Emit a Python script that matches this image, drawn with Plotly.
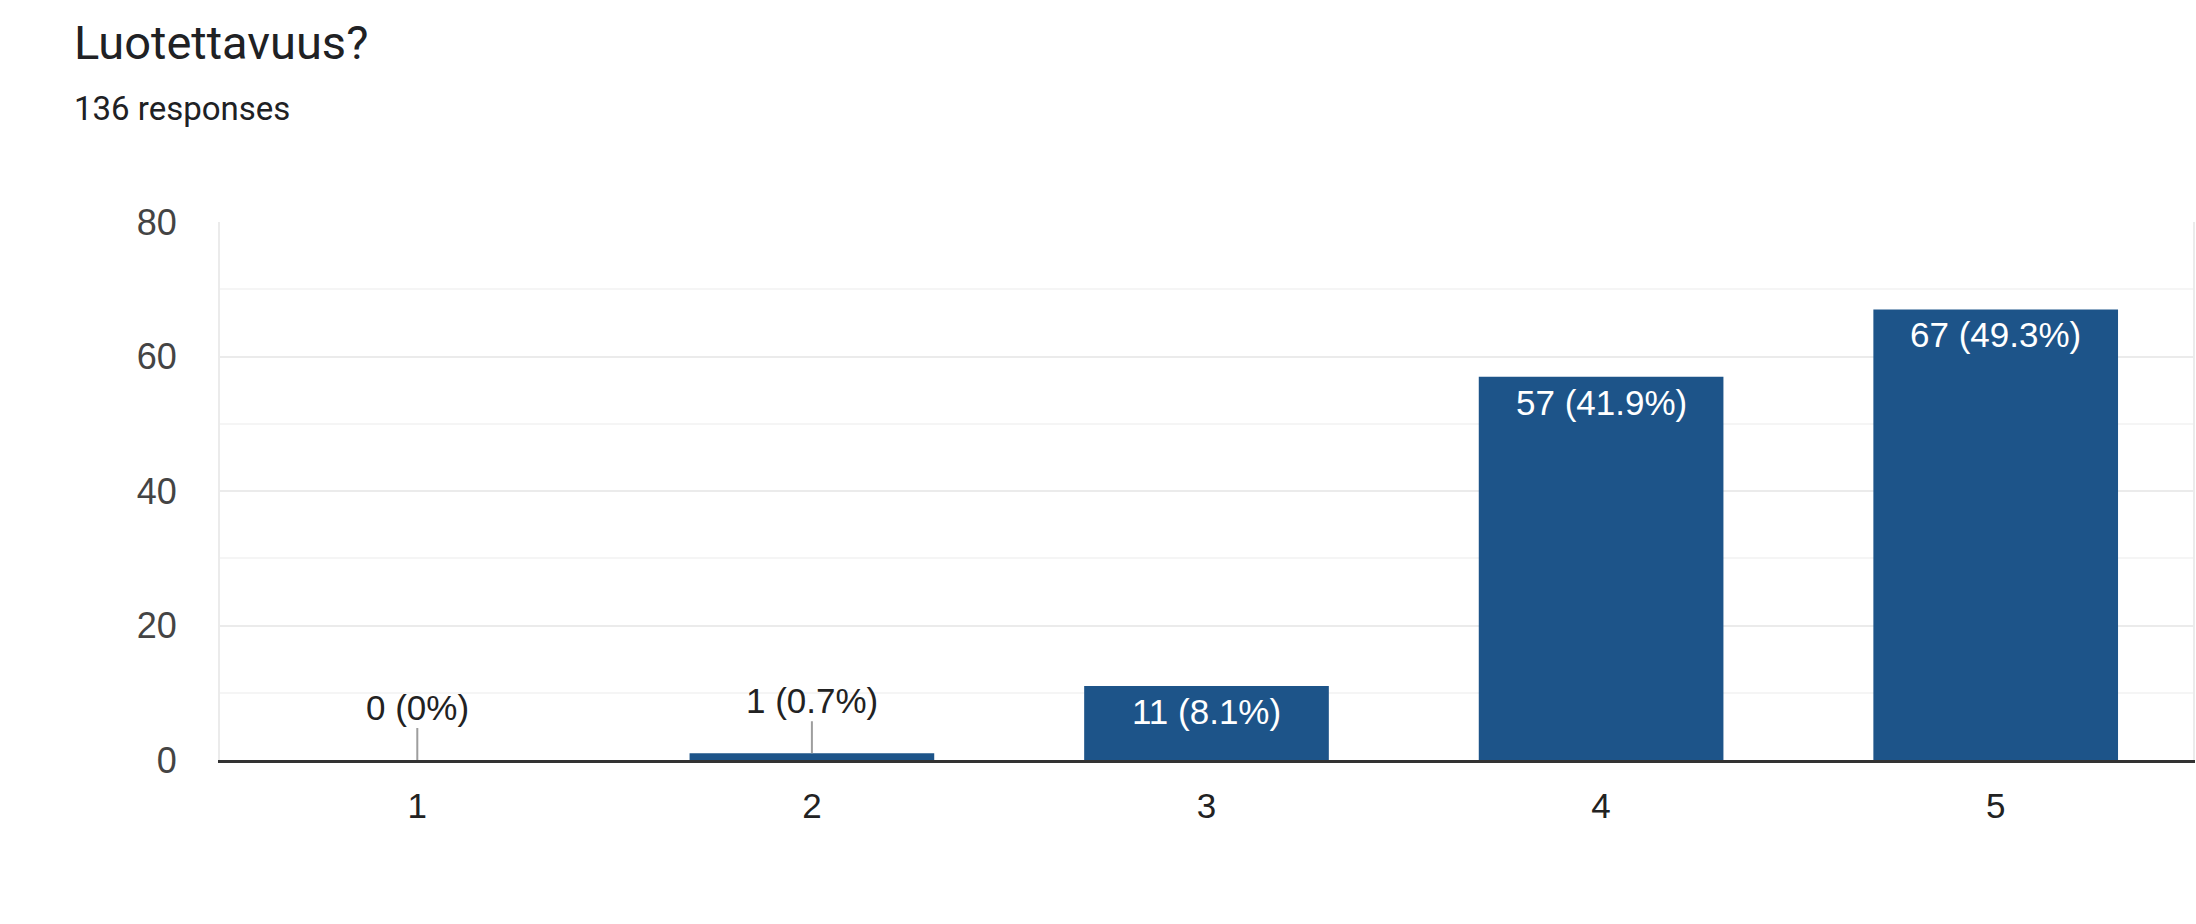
import plotly.graph_objects as go

# Data
categories = ["1", "2", "3", "4", "5"]
counts = [0, 1, 11, 57, 67]
percent_labels = ["0%", "0.7%", "8.1%", "41.9%", "49.3%"]
title_text = "Luotettavuus?"
subtitle_text = "136 responses"
y_ticks = [0, 20, 40, 60, 80]

BAR_COLOR = "#1d5489"
AXIS_FONT = "Liberation Sans, Arial, sans-serif"

fig = go.Figure()
fig.add_trace(go.Bar(
    x=categories,
    y=counts,
    marker=dict(color=BAR_COLOR, line=dict(width=0)),
    hoverinfo="skip",
))

annotations = []
for i, (val, pct) in enumerate(zip(counts, percent_labels)):
    label = f"{val} ({pct})"
    if val >= 5:
        annotations.append(dict(
            x=i, y=val, xref="x", yref="y",
            text=label, showarrow=False,
            yanchor="top", yshift=-4,
            font=dict(family=AXIS_FONT, size=35, color="white"),
        ))
    else:
        annotations.append(dict(
            x=i, y=val, xref="x", yref="y",
            text=label, showarrow=True,
            arrowhead=0, arrowwidth=2, arrowcolor="#9e9e9e",
            ax=0, ay=-53, axref="pixel", ayref="pixel",
            standoff=0, startstandoff=0,
            font=dict(family=AXIS_FONT, size=35, color="#222222"),
        ))

ML, MR = 220, 1
plot_w = 2196 - ML - MR
annotations.append(dict(
    x=(72 - ML) / plot_w, y=1.211, xref="paper", yref="paper",
    text=subtitle_text, showarrow=False,
    xanchor="left", yanchor="middle",
    font=dict(family="Roboto, sans-serif", size=33, color="#202124"),
))

fig.update_layout(
    width=2196, height=924,
    margin=dict(l=ML, r=MR, t=222, b=164),
    paper_bgcolor="white", plot_bgcolor="white",
    showlegend=False,
    bargap=0.38,
    title=dict(
        text=title_text,
        x=74 / 2196, xanchor="left", xref="container",
        y=1 - 43 / 924, yanchor="middle", yref="container",
        font=dict(family="Roboto, sans-serif", size=47, color="#202124"),
    ),
    annotations=annotations,
    xaxis=dict(
        type="category",
        categoryorder="array", categoryarray=categories,
        range=[-0.5, len(categories) - 0.5],
        showgrid=False,
        showline=True, linecolor="#333333", linewidth=2.5,
        ticks="", ticklabelstandoff=13,
        tickfont=dict(family=AXIS_FONT, size=35, color="#222222"),
        fixedrange=True,
    ),
    yaxis=dict(
        range=[0, 80],
        tickvals=y_ticks,
        showgrid=True, gridcolor="#ebebeb", gridwidth=2,
        minor=dict(dtick=10, showgrid=True, gridcolor="#f5f5f5", gridwidth=2),
        zeroline=False,
        showline=True, linecolor="#ebebeb", linewidth=2, mirror=True,
        ticks="", ticklabelstandoff=34,
        tickfont=dict(family=AXIS_FONT, size=36, color="#444444"),
        fixedrange=True,
    ),
)

fig.write_html(
    "out.html",
    config={"displayModeBar": False},
    post_script="document.body.style.margin='0';document.body.style.overflow='hidden';",
)
